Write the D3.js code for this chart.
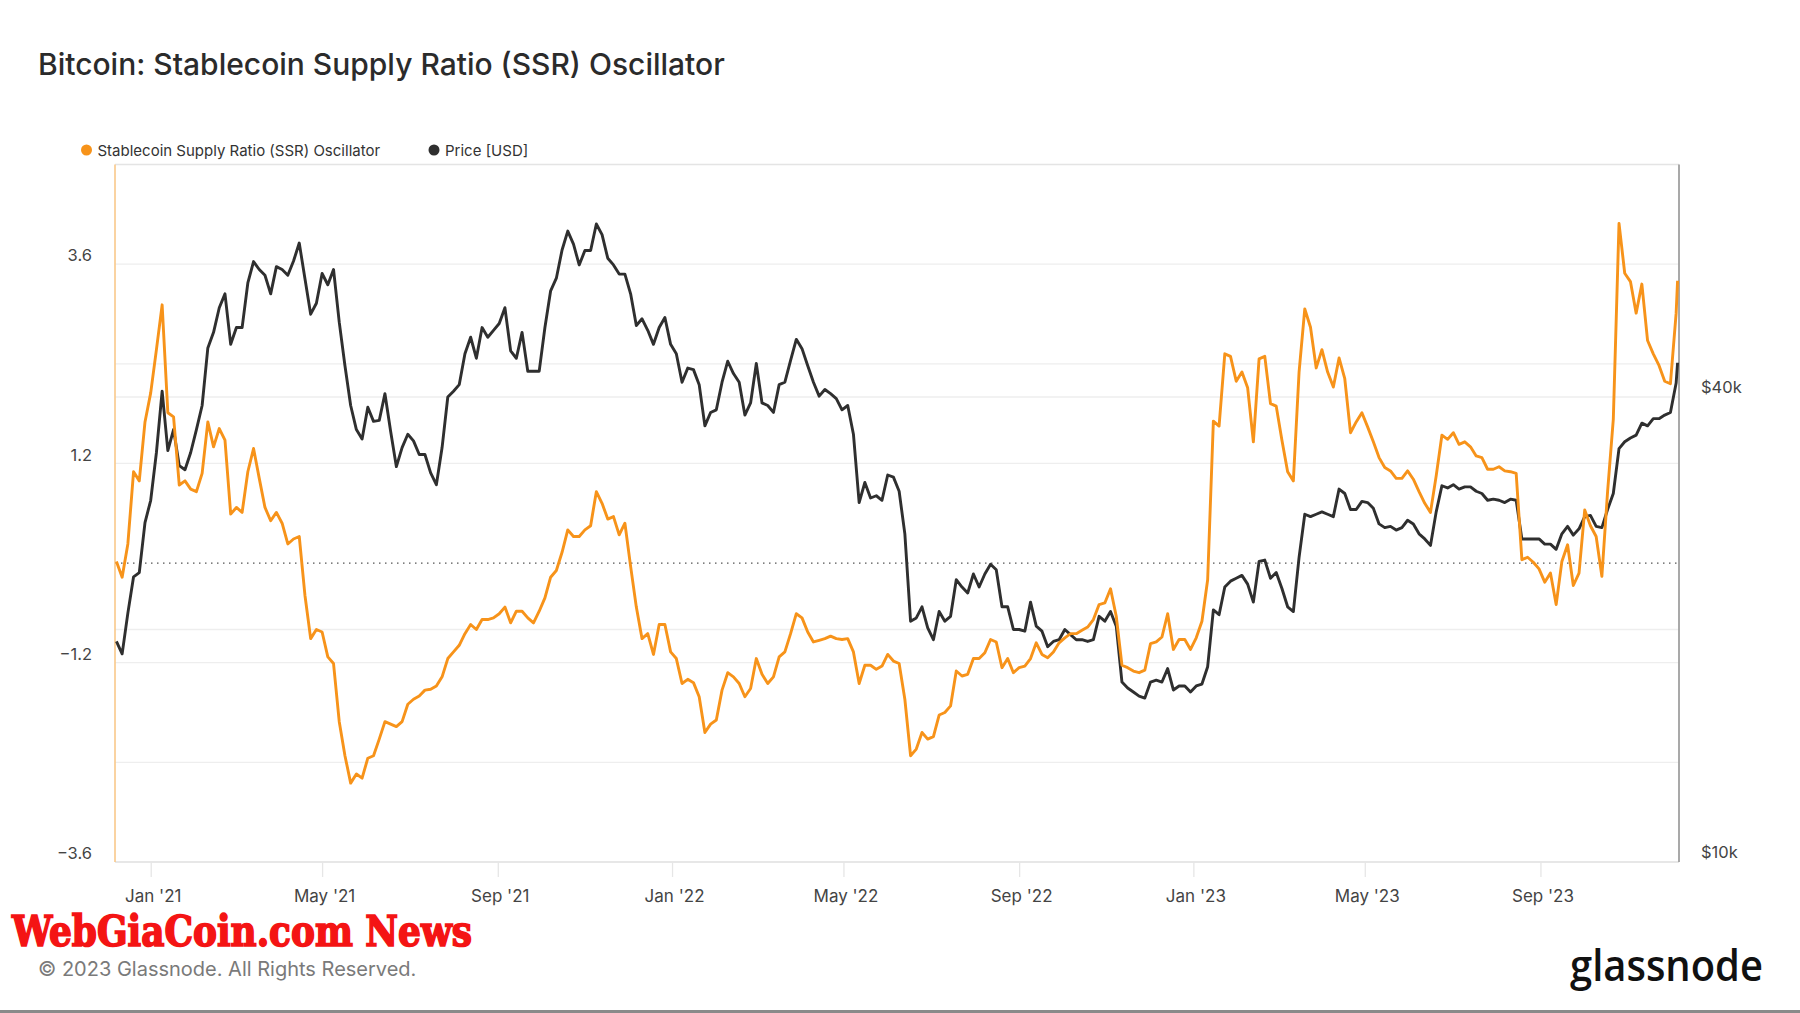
<!DOCTYPE html>
<html><head><meta charset="utf-8">
<script src="https://cdn.jsdelivr.net/npm/d3@7"></script>
<style>body{margin:0;background:#fff;} svg{display:block;}</style>
</head><body><svg id="c" width="1800" height="1013"></svg>
<script>
const dates = [
"2020-12-08","2020-12-12","2020-12-16","2020-12-20","2020-12-24","2020-12-28",
"2021-01-01","2021-01-05","2021-01-09","2021-01-13","2021-01-17","2021-01-21","2021-01-25","2021-01-29",
"2021-02-02","2021-02-06","2021-02-10","2021-02-14","2021-02-18","2021-02-22","2021-02-26",
"2021-03-02","2021-03-06","2021-03-10","2021-03-14","2021-03-18","2021-03-22","2021-03-26","2021-03-30",
"2021-04-03","2021-04-07","2021-04-11","2021-04-15","2021-04-19","2021-04-23","2021-04-27",
"2021-05-01","2021-05-05","2021-05-09","2021-05-13","2021-05-17","2021-05-21","2021-05-25","2021-05-29",
"2021-06-02","2021-06-06","2021-06-10","2021-06-14","2021-06-18","2021-06-22","2021-06-26","2021-06-30",
"2021-07-04","2021-07-08","2021-07-12","2021-07-16","2021-07-20","2021-07-24","2021-07-28",
"2021-08-01","2021-08-05","2021-08-09","2021-08-13","2021-08-17","2021-08-21","2021-08-25","2021-08-29",
"2021-09-02","2021-09-06","2021-09-10","2021-09-14","2021-09-18","2021-09-22","2021-09-26","2021-09-30",
"2021-10-04","2021-10-08","2021-10-12","2021-10-16","2021-10-20","2021-10-24","2021-10-28",
"2021-11-01","2021-11-05","2021-11-09","2021-11-13","2021-11-17","2021-11-21","2021-11-25","2021-11-29",
"2021-12-03","2021-12-07","2021-12-11","2021-12-15","2021-12-19","2021-12-23","2021-12-27","2021-12-31",
"2022-01-04","2022-01-08","2022-01-12","2022-01-16","2022-01-20","2022-01-24","2022-01-28",
"2022-02-01","2022-02-05","2022-02-09","2022-02-13","2022-02-17","2022-02-21","2022-02-25",
"2022-03-01","2022-03-05","2022-03-09","2022-03-13","2022-03-17","2022-03-21","2022-03-25","2022-03-29",
"2022-04-02","2022-04-06","2022-04-10","2022-04-14","2022-04-18","2022-04-22","2022-04-26","2022-04-30",
"2022-05-04","2022-05-08","2022-05-12","2022-05-16","2022-05-20","2022-05-24","2022-05-28",
"2022-06-01","2022-06-05","2022-06-09","2022-06-13","2022-06-17","2022-06-21","2022-06-25","2022-06-29",
"2022-07-03","2022-07-07","2022-07-11","2022-07-15","2022-07-19","2022-07-23","2022-07-27","2022-07-31",
"2022-08-04","2022-08-08","2022-08-12","2022-08-16","2022-08-20","2022-08-24","2022-08-28",
"2022-09-01","2022-09-05","2022-09-09","2022-09-13","2022-09-17","2022-09-21","2022-09-25","2022-09-29",
"2022-10-03","2022-10-07","2022-10-11","2022-10-15","2022-10-19","2022-10-23","2022-10-27","2022-10-31",
"2022-11-04","2022-11-08","2022-11-12","2022-11-16","2022-11-20","2022-11-24","2022-11-28",
"2022-12-02","2022-12-06","2022-12-10","2022-12-14","2022-12-18","2022-12-22","2022-12-26","2022-12-30",
"2023-01-03","2023-01-07","2023-01-11","2023-01-15","2023-01-19","2023-01-23","2023-01-27","2023-01-31",
"2023-02-04","2023-02-08","2023-02-12","2023-02-16","2023-02-20","2023-02-24","2023-02-28",
"2023-03-04","2023-03-08","2023-03-12","2023-03-16","2023-03-20","2023-03-24","2023-03-28",
"2023-04-01","2023-04-05","2023-04-09","2023-04-13","2023-04-17","2023-04-21","2023-04-25","2023-04-29",
"2023-05-03","2023-05-07","2023-05-11","2023-05-15","2023-05-19","2023-05-23","2023-05-27","2023-05-31",
"2023-06-04","2023-06-08","2023-06-12","2023-06-16","2023-06-20","2023-06-24","2023-06-28",
"2023-07-02","2023-07-06","2023-07-10","2023-07-14","2023-07-18","2023-07-22","2023-07-26","2023-07-30",
"2023-08-03","2023-08-07","2023-08-11","2023-08-15","2023-08-19","2023-08-23","2023-08-27","2023-08-31",
"2023-09-04","2023-09-08","2023-09-12","2023-09-16","2023-09-20","2023-09-24","2023-09-28",
"2023-10-02","2023-10-06","2023-10-10","2023-10-14","2023-10-18","2023-10-22","2023-10-26","2023-10-30",
"2023-11-03","2023-11-07","2023-11-11","2023-11-15","2023-11-19","2023-11-23","2023-11-27",
"2023-12-01","2023-12-05","2023-12-06"
];

const ssrOscillator = [
0.02,-0.17,0.23,1.10,0.99,1.70,2.05,2.57,3.11,1.81,1.76,0.94,0.99,0.89,0.86,1.08,1.70,1.40,1.62,1.48,
0.59,0.67,0.61,1.10,1.38,1.02,0.67,0.51,0.61,0.48,0.23,0.29,0.32,-0.39,-0.91,-0.80,-0.83,-1.13,-1.21,-1.91,
-2.32,-2.65,-2.54,-2.59,-2.35,-2.32,-2.12,
-1.91,-1.94,-1.97,-1.91,-1.70,-1.64,-1.60,-1.53,-1.52,-1.48,-1.37,-1.15,-1.07,-0.99,-0.85,-0.74,-0.80,-0.68,
-0.68,-0.66,-0.61,-0.53,-0.72,-0.58,-0.58,-0.66,-0.72,-0.58,-0.42,-0.17,-0.09,0.13,0.40,0.32,0.32,0.40,0.45,
0.86,0.72,0.53,0.56,0.34,0.48,-0.04,-0.53,
-0.91,-0.85,-1.10,-0.74,-0.74,-1.07,-1.15,-1.45,-1.40,-1.44,-1.61,-2.04,-1.94,-1.89,-1.53,-1.32,-1.37,-1.45,
-1.61,-1.51,-1.15,-1.34,-1.45,-1.37,-1.13,-1.07,-0.85,-0.61,-0.66,-0.83,-0.95,-0.93,-0.91,-0.88,-0.91,-0.92,
-0.91,-1.07,-1.45,-1.23,-1.23,-1.28,-1.24,-1.10,-1.18,-1.21,
-1.64,-2.32,-2.24,-2.04,-2.12,-2.09,-1.83,-1.80,-1.72,-1.30,-1.36,-1.34,-1.15,-1.15,-1.08,-0.92,-0.95,-1.26,
-1.15,-1.32,-1.26,-1.24,-1.15,-0.96,-1.10,-1.14,-1.07,-0.96,-0.90,-0.85,-0.85,-0.81,-0.77,-0.68,-0.50,-0.48,
-0.31,-0.64,-1.23,-1.26,-1.30,-1.32,-1.29,-0.97,-0.95,
-0.89,-0.61,-1.04,-0.92,-0.92,-1.04,-0.90,-0.70,-0.20,1.71,1.65,2.52,2.49,2.19,2.30,2.11,1.46,2.46,2.49,1.92,
1.89,1.48,1.10,0.99,2.30,3.06,2.84,2.35,2.57,2.30,2.12,2.47,2.22,1.57,1.70,1.81,1.64,1.46,1.27,1.15,1.11,1.02,
1.02,1.11,1.01,0.86,
0.72,0.61,1.05,1.54,1.49,1.57,1.43,1.46,1.40,1.29,1.27,1.13,1.13,1.16,1.11,1.10,1.08,0.04,0.07,0.01,-0.07,
-0.23,-0.12,-0.50,0.02,0.22,-0.27,-0.12,0.64,0.45,0.32,-0.16,0.86,1.73,4.09,3.49,3.39,3.01,3.36,2.68,2.52,
2.38,2.19,2.16,3.01,3.40
];

const priceUsd = [
19300,18600,21000,23400,23700,27500,29400,33900,40700,34100,36300,32600,32200,33900,36300,39000,46300,48500,
52200,54400,46800,49200,49200,56200,59900,58500,57500,54400,59000,58500,57500,60000,63300,56900,51200,52900,
57800,55900,58500,50000,43900,39000,36300,35300,38800,37200,37300,
40400,36100,32500,34400,35800,35100,33700,33700,31900,30800,34400,40000,40700,41500,45500,47800,44900,49200,
47800,48800,49800,52200,45900,44900,48500,43200,43200,43200,49200,54900,57000,62000,65600,63100,59300,61900,
61900,67000,64900,60500,59300,57700,57700,54400,49500,
50500,48800,46800,49200,50700,46800,45500,41800,43600,43400,41500,36700,38200,38500,41800,44500,42900,41800,
37900,39300,44200,39300,39000,38200,41500,41800,44600,47500,46200,43900,41800,40100,40900,40400,39800,38500,
39000,35800,29200,31000,29600,29800,29400,31700,31500,30200,
26600,20500,20700,21400,20100,19400,21100,20500,20800,23200,22700,22300,23600,22700,23600,24300,23900,21400,
21400,20000,20000,19900,21700,20200,19900,19000,19300,19400,20000,19700,19400,19400,19300,19400,20800,20500,
21100,20200,17100,16800,16600,16400,16300,17100,17200,
17100,17800,16700,16900,16900,16600,16900,17000,17900,21200,20900,22700,23100,23300,23500,22900,21700,24500,
24600,23300,23700,22600,21400,21100,24800,28200,28000,28200,28400,28200,28000,30400,30000,28600,28600,29300,
29200,28700,27400,27100,27200,26900,27100,27700,27400,26600,
26200,25700,28400,30700,30500,30800,30400,30600,30600,30200,30000,29400,29500,29400,29200,29500,29400,26200,
26200,26200,26200,25800,25800,25400,26600,27200,26500,27000,28000,28100,27200,27100,28600,30000,34300,35000,
35400,35700,37000,36700,37500,37500,37900,38200,41700,44300
];

const ssrTickValues = [-3.6, -1.2, 1.2, 3.6];
const ssrGridValues = [-3.6, -2.4, -1.2, 1.2, 2.4, 3.6];
const priceTickValues = [10000, 40000];
const priceGridValues = [10000, 20000, 40000];
const monthTickDates = ["2021-01-01","2021-05-01","2021-09-01","2022-01-01","2022-05-01","2022-09-01","2023-01-01","2023-05-01","2023-09-01"];
const monthTickLabels = ["Jan '21","May '21","Sep '21","Jan '22","May '22","Sep '22","Jan '23","May '23","Sep '23"];
const seriesNames = ["Stablecoin Supply Ratio (SSR) Oscillator", "Price [USD]"];
const seriesColors = ["#f7931a", "#2f2f2f"];

const FONT = "Inter, 'Noto Sans', sans-serif";
const svg = d3.select("#c");
const L = 115, R = 1679, T = 164.5, B = 862;

const parse = d3.utcParse("%Y-%m-%d");
const rows = dates.map((d, i) => ({ date: parse(d), ssr: ssrOscillator[i], price: priceUsd[i] }));

const x = d3.scaleUtc().domain([parse("2020-12-07"), parse("2023-12-07")]).range([L, R]);
const yL = d3.scaleLinear().domain([-3.6, 4.8]).range([B, T]);
const yR = d3.scaleLog().domain([10000, 80000]).range([B, T]);

// title
svg.append("text").attr("x", 38).attr("y", 75).attr("font-family", FONT).attr("font-size", 30)
  .attr("font-weight", 500).attr("fill", "#2b2b2b").text("Bitcoin: Stablecoin Supply Ratio (SSR) Oscillator");

// legend
const legX = [86.5, 434];
seriesNames.forEach((n, i) => {
  svg.append("circle").attr("cx", legX[i]).attr("cy", 150).attr("r", 5.5).attr("fill", seriesColors[i]);
  svg.append("text").attr("x", legX[i] + 11).attr("y", 155.5).attr("font-family", FONT).attr("font-size", 15)
    .attr("fill", "#333").text(n);
});

// gridlines
const g = svg.append("g");
g.selectAll(".gl").data(ssrGridValues).join("line")
  .attr("x1", L).attr("x2", R).attr("y1", d => yL(d)).attr("y2", d => yL(d))
  .attr("stroke", "#eeeeee").attr("stroke-width", 1.3);
g.selectAll(".gr").data(priceGridValues).join("line")
  .attr("x1", L).attr("x2", R).attr("y1", d => yR(d)).attr("y2", d => yR(d))
  .attr("stroke", "#eeeeee").attr("stroke-width", 1.3);
g.append("line").attr("x1", L).attr("x2", R).attr("y1", T).attr("y2", T).attr("stroke", "#e4e4e4").attr("stroke-width", 1.5);
g.append("line").attr("x1", L).attr("x2", R).attr("y1", B).attr("y2", B).attr("stroke", "#e4e4e4").attr("stroke-width", 1.5);
g.append("line").attr("x1", L).attr("x2", R).attr("y1", yL(0)).attr("y2", yL(0))
  .attr("stroke", "#555").attr("stroke-width", 1.2).attr("stroke-dasharray", "1.5,4.5");

// x axis
const xAxis = d3.axisBottom(x).tickValues(monthTickDates.map(parse))
  .tickFormat((d, i) => monthTickLabels[i]).tickSize(15).tickPadding(13);
const xg = svg.append("g").attr("transform", `translate(0,${B})`).call(xAxis);
xg.select(".domain").remove();
xg.selectAll(".tick line").attr("stroke", "#e6e6e6").attr("stroke-width", 1.3);
xg.selectAll(".tick text").attr("font-family", FONT).attr("font-size", 17).attr("fill", "#444").attr("dx", 2);

// left axis
const lAxis = d3.axisLeft(yL).tickValues(ssrTickValues).tickFormat(d3.format(".1f")).tickSize(0).tickPadding(23);
const lg = svg.append("g").attr("transform", `translate(${L},0)`).call(lAxis);
lg.select(".domain").remove();
lg.selectAll(".tick text").attr("font-family", FONT).attr("font-size", 16.5).attr("fill", "#444").attr("dy", "-0.2em");

// right axis
const rAxis = d3.axisRight(yR).tickValues(priceTickValues).tickFormat(d => "$" + (d / 1000) + "k").tickSize(0).tickPadding(22);
const rg = svg.append("g").attr("transform", `translate(${R},0)`).call(rAxis);
rg.select(".domain").remove();
rg.selectAll(".tick text").attr("font-family", FONT).attr("font-size", 16.5).attr("fill", "#444").attr("dy", "-0.25em");

// side borders
svg.append("line").attr("x1", L).attr("x2", L).attr("y1", T).attr("y2", B).attr("stroke", "#f9c88a").attr("stroke-width", 1.6);
svg.append("line").attr("x1", R).attr("x2", R).attr("y1", T).attr("y2", B).attr("stroke", "#a0a0a0").attr("stroke-width", 1.8);

// lines
const priceLine = d3.line().x(d => x(d.date)).y(d => yR(d.price));
const ssrLine = d3.line().x(d => x(d.date)).y(d => yL(d.ssr));
svg.append("path").datum(rows).attr("d", priceLine).attr("fill", "none")
  .attr("stroke", seriesColors[1]).attr("stroke-width", 2.9).attr("stroke-linejoin", "round");
svg.append("path").datum(rows).attr("d", ssrLine).attr("fill", "none")
  .attr("stroke", seriesColors[0]).attr("stroke-width", 2.9).attr("stroke-linejoin", "round");

// watermark
svg.append("text").attr("x", 12).attr("y", 946).attr("font-family", "'DejaVu Serif Condensed','DejaVu Serif',serif")
  .attr("font-weight", 700).attr("font-size", 42).attr("fill", "#f41414").attr("stroke", "#f41414").attr("stroke-width", 1.6)
  .attr("textLength", 460).attr("lengthAdjust", "spacingAndGlyphs").text("WebGiaCoin.com News");

// footer
svg.append("text").attr("x", 38).attr("y", 976).attr("font-family", FONT).attr("font-size", 20)
  .attr("fill", "#7a7a7a").text("© 2023 Glassnode. All Rights Reserved.");
svg.append("text").attr("x", 1570).attr("y", 981).attr("font-family", "'Open Sans', 'Noto Sans', sans-serif")
  .attr("font-size", 43).attr("font-weight", 600).attr("fill", "#111")
  .attr("textLength", 193).attr("lengthAdjust", "spacingAndGlyphs").text("glassnode");

svg.append("rect").attr("x", 0).attr("y", 1010).attr("width", 1800).attr("height", 3).attr("fill", "#8a8a8a");
</script></body></html>
